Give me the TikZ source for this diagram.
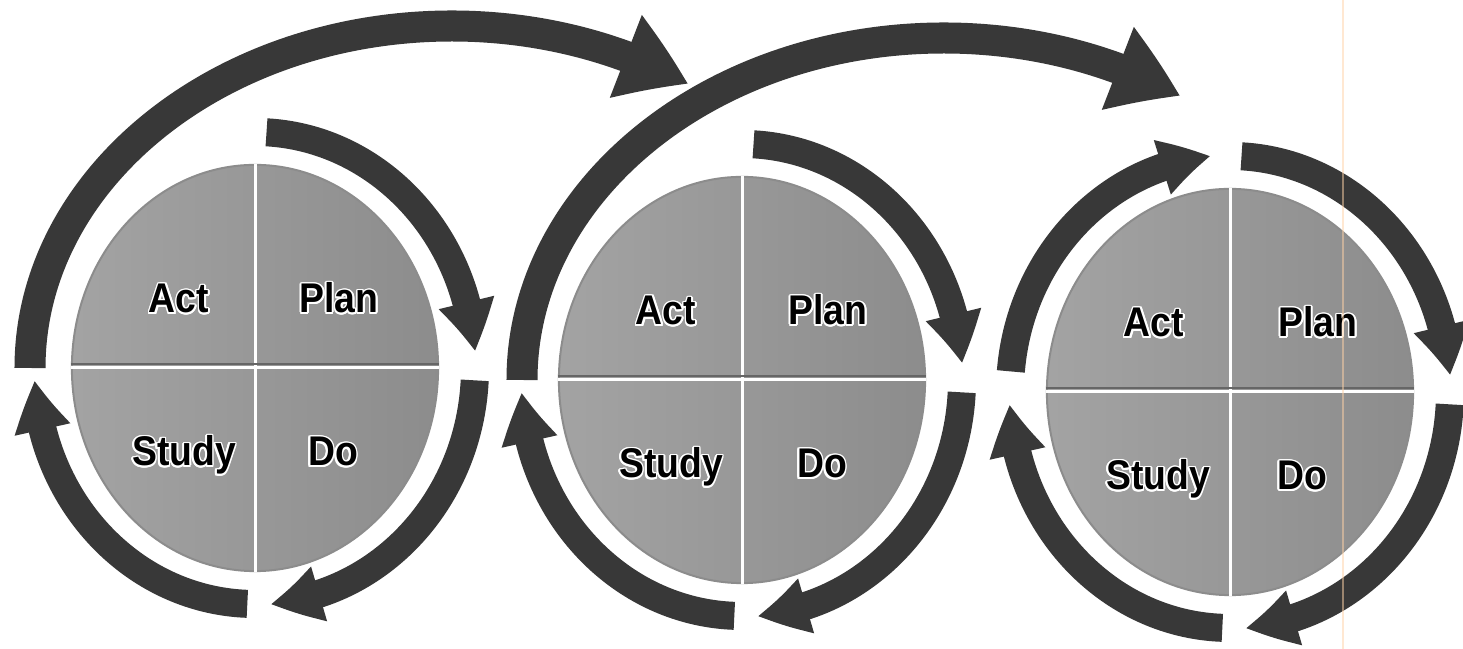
\documentclass[tikz,border=0pt]{standalone}
\usepackage{fontspec}
\setmainfont{Liberation Sans}
\newfontfamily\phasefont[FakeStretch=0.9]{Liberation Sans}
\usepackage{xcolor}
\usepackage{tikz}
\usepackage{contour}
\usetikzlibrary{arrows.meta, bending, shapes.geometric, calc}
\contourlength{0.45pt}

\begin{document}
\begin{tikzpicture}[x=0.01cm, y=0.01cm,
    disk/.style={ellipse, minimum width=3.66cm, minimum height=4.06cm, inner sep=0pt,
        left color=black!36, right color=black!45, draw=black!45, line width=0.2mm},
    divider/.style={white, line width=0.3mm},
    rim/.style={black!60, line width=0.2mm},
    phase/.style={anchor=base, font=\phasefont\bfseries\fontsize{11.8}{13}\selectfont},
    cyclearrow/.style={draw=black!78, line width=2.8mm, -{Triangle[width=5.3mm, length=5mm, bend]}},
    bigarrow/.style={draw=black!78, line width=3.1mm, -{Triangle[width=8.4mm, length=6.8mm, bend]}}]
    \path[use as bounding box, fill=white] (0,0) rectangle (1463,649);

    % first cycle
    \node[disk] (d1) at (255,281) {};
    \draw[divider] (d1.north) -- (d1.south);
    \draw[rim] ([yshift=0.35mm]d1.west) -- ([yshift=0.35mm]d1.east);
    \draw[divider] (d1.west) -- (d1.east);
    \node[phase] (act1) at ($(d1)+(-76,55)$) {\contour{white}{Act}};
    \node[phase] (plan1) at ($(d1)+(84,55)$) {\contour{white}{Plan}};
    \node[phase] (study1) at ($(d1)+(-71,-98)$) {\contour{white}{Study}};
    \node[phase] (do1) at ($(d1)+(78,-98)$) {\contour{white}{Do}};
    \draw[cyclearrow] ([shift={(87:220 and 236)}]d1.center) arc[start angle=87, end angle=4, x radius=220, y radius=236];
    \draw[cyclearrow] ([shift={(-3:220 and 236)}]d1.center) arc[start angle=-3, end angle=-86, x radius=220, y radius=236];
    \draw[cyclearrow] ([shift={(-92:220 and 236)}]d1.center) arc[start angle=-92, end angle=-177, x radius=220, y radius=236];

    % second cycle
    \node[disk] (d2) at (742,269) {};
    \draw[divider] (d2.north) -- (d2.south);
    \draw[rim] ([yshift=0.35mm]d2.west) -- ([yshift=0.35mm]d2.east);
    \draw[divider] (d2.west) -- (d2.east);
    \node[phase] (act2) at ($(d2)+(-76,55)$) {\contour{white}{Act}};
    \node[phase] (plan2) at ($(d2)+(86,55)$) {\contour{white}{Plan}};
    \node[phase] (study2) at ($(d2)+(-71,-98)$) {\contour{white}{Study}};
    \node[phase] (do2) at ($(d2)+(80,-98)$) {\contour{white}{Do}};
    \draw[cyclearrow] ([shift={(87:220 and 236)}]d2.center) arc[start angle=87, end angle=4, x radius=220, y radius=236];
    \draw[cyclearrow] ([shift={(-3:220 and 236)}]d2.center) arc[start angle=-3, end angle=-86, x radius=220, y radius=236];
    \draw[cyclearrow] ([shift={(-92:220 and 236)}]d2.center) arc[start angle=-92, end angle=-177, x radius=220, y radius=236];

    % third cycle
    \node[disk] (d3) at (1230,257) {};
    \draw[divider] (d3.north) -- (d3.south);
    \draw[rim] ([yshift=0.35mm]d3.west) -- ([yshift=0.35mm]d3.east);
    \draw[divider] (d3.west) -- (d3.east);
    \node[phase] (act3) at ($(d3)+(-76,55)$) {\contour{white}{Act}};
    \node[phase] (plan3) at ($(d3)+(88,55)$) {\contour{white}{Plan}};
    \node[phase] (study3) at ($(d3)+(-72,-98)$) {\contour{white}{Study}};
    \node[phase] (do3) at ($(d3)+(72,-98)$) {\contour{white}{Do}};
    \draw[cyclearrow] ([shift={(175:220 and 236)}]d3.center) arc[start angle=175, end angle=95, x radius=220, y radius=236];
    \draw[cyclearrow] ([shift={(87:220 and 236)}]d3.center) arc[start angle=87, end angle=4, x radius=220, y radius=236];
    \draw[cyclearrow] ([shift={(-3:220 and 236)}]d3.center) arc[start angle=-3, end angle=-86, x radius=220, y radius=236];
    \draw[cyclearrow] ([shift={(-92:220 and 236)}]d3.center) arc[start angle=-92, end angle=-177, x radius=220, y radius=236];

    % hand-over from one cycle to the next
    \draw[bigarrow] ([shift={(-225,0)}]d1.center) arc[start angle=180, end angle=56, x radius=422, y radius=342];
    \draw[bigarrow] ([shift={(-220,0)}]d2.center) arc[start angle=180, end angle=56, x radius=422, y radius=342];

    % paper edge
    \draw[orange!35, line width=0.2mm, opacity=0.5] (1343,0) -- (1343,649);
\end{tikzpicture}
\end{document}
